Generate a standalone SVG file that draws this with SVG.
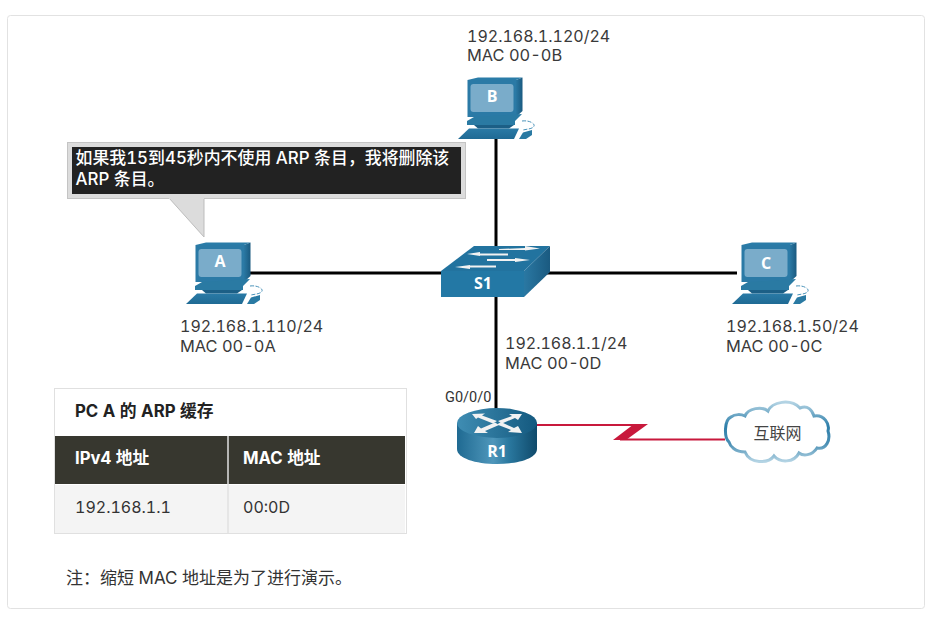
<svg xmlns="http://www.w3.org/2000/svg" xmlns:xlink="http://www.w3.org/1999/xlink" width="935" height="625" viewBox="0 0 935 625">
<style>
text{font-family:"Inter","Noto Sans CJK SC",sans-serif;font-feature-settings:"tnum";}
.lbl{font-size:16px;fill:#3a3a3a}
.mac{font-size:16.400px;fill:#3a3a3a}
.dev{font-size:16px;font-weight:700;fill:#fff;text-anchor:middle;font-family:"Open Sans","Noto Sans",sans-serif}
.link{stroke:#000;stroke-width:3;fill:none}
.th{font-size:16.700px;font-weight:700;fill:#fff}
.td{font-size:16px;fill:#333}
.call{font-size:16.900px;fill:#fff;font-weight:500}
</style>
<defs>
<linearGradient id="front" x1="0" y1="0" x2="0" y2="1"><stop offset="0" stop-color="#2a7aa6"/><stop offset="1" stop-color="#1f6a94"/></linearGradient>
<linearGradient id="side" x1="0" y1="0" x2="1" y2="0"><stop offset="0" stop-color="#2a78a3"/><stop offset="1" stop-color="#1a5a80"/></linearGradient>
<linearGradient id="rbody" x1="0" y1="0" x2="1" y2="0"><stop offset="0" stop-color="#1f6a92"/><stop offset=".45" stop-color="#4f97bb"/><stop offset=".65" stop-color="#2a789f"/><stop offset="1" stop-color="#0f4a6b"/></linearGradient>
<linearGradient id="rtop" x1="0" y1="0" x2="1" y2="0"><stop offset="0" stop-color="#3f8db3"/><stop offset="1" stop-color="#14597f"/></linearGradient>
<linearGradient id="cloudg" x1="0" y1="0" x2="0" y2="1"><stop offset="0" stop-color="#b4d4e4"/><stop offset=".4" stop-color="#2e7faa"/><stop offset=".7" stop-color="#4a8fb4"/><stop offset="1" stop-color="#b4d4e4"/></linearGradient>
<g id="pc">
<polygon points="25.500,15 36,12.500 80.500,12.500 74,15" fill="#2a7ca8"/>
<polygon points="74,15 80.500,12.500 80.500,46 74,52" fill="url(#side)"/>
<rect x="25.500" y="15" width="48.500" height="37" fill="#2b7aa6"/>
<rect x="28.500" y="19" width="43" height="28" rx="3" fill="#7aacca"/>
<polygon points="25,56 32,52 80,49 73,56 73,60 25,60" fill="#2a7aa3"/>
<polygon points="32,60 72,60 67,63.500 36,63.500" fill="#1c5f86"/>
<polygon points="16,74 27,63.500 77,63.500 72,74" fill="url(#front)"/>
<polygon points="77,74 81,67.500 90,65 90,70 84,74" fill="#2a7aa3"/>
<path d="M80,56 C88,55 93,59 92,61 C91,64 85,64 81,65" fill="none" stroke="#4a93ba" stroke-width="1" stroke-dasharray="4 1.500"/>
</g>
</defs>
<rect width="935" height="625" fill="#fff"/>
<rect x="7.500" y="15.500" width="917" height="593" rx="3" fill="#fff" stroke="#e2e2e2"/>
<g id="connectors">
<line class="link" x1="496" y1="135" x2="496" y2="410"/>
<line class="link" x1="248" y1="273" x2="737" y2="273"/>
<polyline points="537,425 640,425" fill="none" stroke="#c8193c" stroke-width="2"/>
<polyline points="620,439.500 725,439.500" fill="none" stroke="#c8193c" stroke-width="2"/>
<polygon points="634,424 648,424 626,440 613,440" fill="#c8193c"/>
</g>
<g id="A"><use href="#pc" x="170" y="230"/><text class="dev" x="220" y="267">A</text></g>
<g id="B"><use href="#pc" x="442" y="65"/><text class="dev" x="492" y="102">B</text></g>
<g id="C"><use href="#pc" x="716" y="230"/><text class="dev" x="766" y="269">C</text></g>
<g id="S1">
<polygon points="441,271 474,246 550,246 524,271" fill="#22739f"/>
<polygon points="524,271 550,246 550,272 524,297" fill="url(#side)"/>
<rect x="441" y="271" width="83" height="26" fill="#2378a5"/>
<g fill="#f2f2f2">
<polygon points="499,249 525,248 525,246 540,248.500 525,250.500 525,250 499,250"/>
<polygon points="467,254 480,252 480,253.500 508,253.500 508,255.500 480,255.500 480,256"/>
<polygon points="487,259 515,259 515,258 530,260 515,262 515,261 487,261"/>
<polygon points="455,267 470,265 470,265.500 496,265.500 496,267.500 470,267.500 470,269"/>
</g>
<text class="dev" x="483" y="289">S1</text>
</g>
<g id="R1">
<path d="M457,423 V449 C457,458 475,464 497,464 C519,464 537,458 537,449 V423 Z" fill="url(#rbody)"/>
<ellipse cx="497" cy="423" rx="40" ry="15" fill="url(#rtop)"/>
<g fill="#f2f2f2">
<polygon points="472,414 485,413.500 482,415.500 497,421 493,423.500 478,417.500 476,419"/>
<polygon points="522,414 509,414 512,416 498,421 502,423.500 515,418 518,420"/>
<polygon points="474,433 488,433 485,431 499,425 495,422.500 481,428.500 478,426"/>
<polygon points="522,433 508,432 511,430 497,424.500 501,422 514,428 518,426"/>
</g>
<text class="dev" x="497" y="457">R1</text>
</g>
<g id="cloud">
<path d="M745,416 C748,408 762,406 768,411 C772,402 790,398 800,408 C808,405 812,410 814,416 C824,414 830,424 828,431 C831,440 826,450 817,448 C812,456 803,456 799,453 C794,463 780,463 774,456 C768,464 750,464 745,452 C735,452 730,446 729,442 C724,438 724,420 731,417 C735,414 741,414 745,416 Z" fill="#fff" stroke="url(#cloudg)" stroke-width="3"/>
<text x="777.500" y="439" font-size="16" fill="#444" text-anchor="middle">互联网</text>
</g>
<g id="callout">
<polygon points="169,198 204,237 204,198" fill="#dcdcdc" stroke="#bdbdbd"/>
<rect x="67.500" y="142.500" width="398" height="56" fill="#dcdcdc" stroke="#c4c4c4"/>
<rect x="72" y="147" width="389" height="47" fill="#222"/>
<line x1="169" y1="198" x2="204" y2="198" stroke="#dcdcdc" stroke-width="2"/>
<text class="call" x="75.500" y="164">如果我15到45秒内不使用 ARP 条目，我将删除该</text>
<text class="call" x="75.500" y="185">ARP 条目。</text>
</g>
<g id="labels">
<text class="lbl" x="467" y="42">192.168.1.120/24</text>
<text class="mac" x="467" y="61">MAC 00-0B</text>
<text class="lbl" x="180" y="332">192.168.1.110/24</text>
<text class="mac" x="180" y="352">MAC 00-0A</text>
<text class="lbl" x="726" y="332">192.168.1.50/24</text>
<text class="mac" x="726" y="352">MAC 00-0C</text>
<text class="lbl" x="505" y="349">192.168.1.1/24</text>
<text class="mac" x="505" y="369">MAC 00-0D</text>
<text x="445" y="402" font-size="14.500" fill="#333" style="font-family:'Roboto',sans-serif">G0/0/0</text>
</g>
<g id="table">
<rect x="54.500" y="388.500" width="352" height="145" fill="#fff" stroke="#e0e0e0"/>
<rect x="55" y="436" width="350" height="48" fill="#37372f"/>
<rect x="55" y="485" width="350" height="48" fill="#f4f4f4"/>
<line x1="228" y1="436" x2="228" y2="533" stroke="#e2e2e2" stroke-width="1.500"/>
<text x="75" y="417" font-size="16.800" font-weight="700" fill="#222">PC A 的 ARP 缓存</text>
<text class="th" x="75" y="464">IPv4 地址</text>
<text class="th" x="243" y="464">MAC 地址</text>
<text class="td" x="75" y="513">192.168.1.1</text>
<text class="td" x="243" y="513">00:0D</text>
</g>
<text x="66" y="584" font-size="17" fill="#333">注：缩短 MAC 地址是为了进行演示。</text>
</svg>
